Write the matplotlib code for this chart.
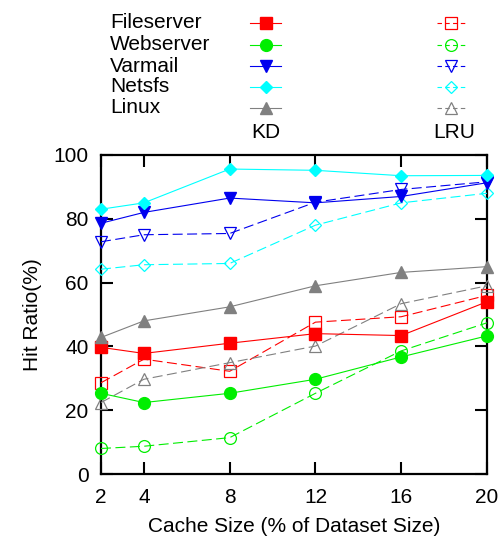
import matplotlib
matplotlib.use("Agg")
import matplotlib.pyplot as plt
from matplotlib.lines import Line2D

plt.rcParams['font.family'] = ['Liberation Sans', 'DejaVu Sans']

cache_sizes = [2, 4, 8, 12, 16, 20]
workloads = ["Fileserver", "Webserver", "Varmail", "Netsfs", "Linux"]
colors = ["#ff0000", "#00ee00", "#0000ee", "#00ffff", "#808080"]
markers = ["s", "o", "v", "D", "^"]
msizes = [8.5, 8.5, 8.5, 6.5, 8.5]

kd_fileserver = [39.7, 37.8, 41.0, 44.0, 43.4, 54.0]
kd_webserver = [25.3, 22.4, 25.3, 29.7, 36.7, 43.3]
kd_varmail = [78.6, 82.0, 86.5, 85.0, 87.0, 91.3]
kd_netsfs = [83.0, 85.0, 95.6, 95.2, 93.5, 93.6]
kd_linux = [42.8, 48.0, 52.4, 59.0, 63.2, 65.0]

lru_fileserver = [28.6, 36.0, 32.2, 47.6, 49.3, 56.0]
lru_webserver = [8.0, 8.7, 11.4, 25.3, 38.6, 47.4]
lru_varmail = [72.8, 75.0, 75.4, 85.2, 89.2, 91.6]
lru_netsfs = [64.2, 65.6, 66.0, 78.0, 85.0, 88.0]
lru_linux = [22.4, 29.7, 34.9, 40.1, 53.4, 59.0]

kd_series = [kd_fileserver, kd_webserver, kd_varmail, kd_netsfs, kd_linux]
lru_series = [lru_fileserver, lru_webserver, lru_varmail, lru_netsfs, lru_linux]

W, H = 504, 539
fig = plt.figure(figsize=(W / 100, H / 100), dpi=100)
ax = fig.add_axes([101 / W, (H - 474) / H, (487 - 101) / W, (474 - 155) / H])

dash = (0, (9, 4))
lw = 0.8
for i in range(len(workloads)):
    ax.plot(cache_sizes, lru_series[i], color=colors[i], linestyle=dash, lw=lw,
            marker=markers[i], ms=msizes[i], mfc='none', mec=colors[i], mew=0.9,
            clip_on=False, zorder=2)
for i in range(len(workloads)):
    ax.plot(cache_sizes, kd_series[i], color=colors[i], linestyle='-', lw=lw,
            marker=markers[i], ms=msizes[i], mfc=colors[i], mec=colors[i],
            clip_on=False, zorder=3)

ax.set_xlim(2, 20)
ax.set_ylim(0, 100)
ax.set_xticks(cache_sizes)
ax.set_yticks([0, 20, 40, 60, 80, 100])
ax.tick_params(direction='in', length=8.5, width=1.5, labelsize=15,
               top=True, right=True)
ax.tick_params(axis='x', pad=10)
ax.tick_params(axis='y', pad=9)
for s in ax.spines.values():
    s.set_linewidth(1.6)
    s.set_zorder(1)
ax.set_xlabel("Cache Size (% of Dataset Size)", fontsize=15, labelpad=7)
ax.set_ylabel("Hit Ratio(%)", fontsize=15, labelpad=8)

# legend (manual, figure pixel coordinates)
rows = [23, 45, 66, 87, 108]
for i, name in enumerate(workloads):
    y = 1 - rows[i] / H
    fig.text(110 / W, y, name, fontsize=15, ha='left', va='center')
    fig.add_artist(Line2D([250 / W, 281 / W], [y, y], color=colors[i], lw=lw,
                          marker=None, transform=fig.transFigure))
    fig.add_artist(Line2D([265.5 / W], [y], color=colors[i], marker=markers[i],
                          ms=msizes[i], mfc=colors[i], mec=colors[i],
                          transform=fig.transFigure))
    fig.add_artist(Line2D([437 / W, 465 / W], [y, y], color=colors[i], lw=lw,
                          linestyle=(0, (4, 3)), transform=fig.transFigure))
    fig.add_artist(Line2D([451 / W], [y], color=colors[i], marker=markers[i],
                          ms=msizes[i], mfc='none', mec=colors[i], mew=0.9,
                          transform=fig.transFigure))
fig.text(266 / W, 1 - 133 / H, "KD", fontsize=15, ha='center', va='center')
fig.text(454 / W, 1 - 133 / H, "LRU", fontsize=15, ha='center', va='center')

fig.savefig("out.png", dpi=100)
